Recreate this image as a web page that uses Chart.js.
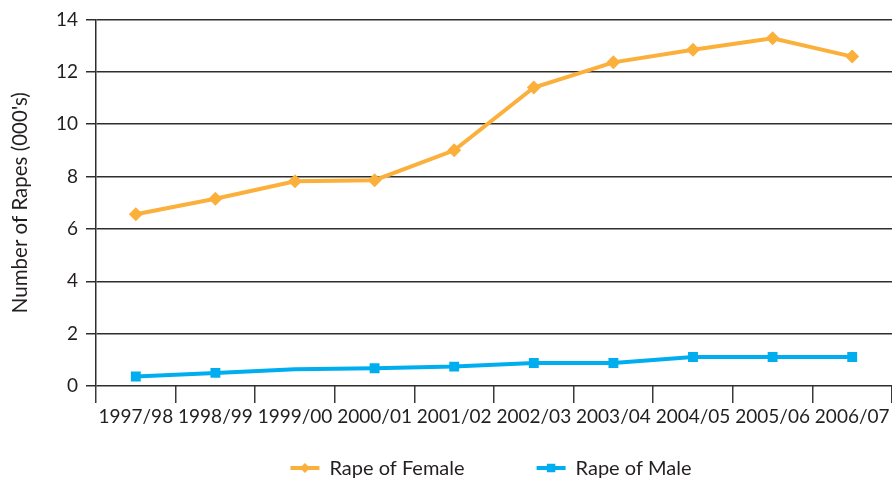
<!DOCTYPE html>
<html>
<head>
<meta charset="utf-8">
<script src="https://cdn.jsdelivr.net/npm/chart.js@4/dist/chart.umd.min.js"></script>
<style>
  html, body { margin: 0; padding: 0; background: #fff; }
  #wrap { width: 892px; height: 485px; }
</style>
</head>
<body>
<div id="wrap"><canvas id="rapeChart" width="892" height="485"></canvas></div>
<script>
// Recorded rapes by year, in thousands
const years = ['1997/98', '1998/99', '1999/00', '2000/01', '2001/02', '2002/03', '2003/04', '2004/05', '2005/06', '2006/07'];
const femaleRapes = [6.56, 7.15, 7.82, 7.86, 9.0, 11.4, 12.36, 12.84, 13.28, 12.58];
const maleRapes = [0.36, 0.5, 0.64, 0.68, 0.74, 0.88, 0.88, 1.11, 1.11, 1.11];
const yTickValues = [0, 2, 4, 6, 8, 10, 12, 14];

const ORANGE = '#FBB03B';
const BLUE = '#00AEEF';
const INK = '#231f20';
const FONT = 'Lato, "Open Sans", sans-serif';

// male series has no marker on the 1999/00 point
const malePointRadius = maleRapes.map((v, i) => i === 2 ? 0 : 7);

// legend drawn as short line + marker, like the series themselves
const lineLegend = {
    id: 'lineLegend',
    afterDraw(chart) {
        const ctx = chart.ctx;
        const area = chart.chartArea;
        const lineLen = 29, textGap = 10, itemGap = 72;
        ctx.save();
        ctx.font = '20px ' + FONT;
        const items = chart.data.datasets.map(ds => ({
            ds,
            w: lineLen + textGap + ctx.measureText(ds.label).width
        }));
        const total = items.reduce((s, it) => s + it.w, 0) + itemGap * (items.length - 1);
        let x = (area.left + area.right) / 2 - total / 2 - 3;
        const y = chart.height - 17;
        items.forEach(({ds, w}) => {
            ctx.strokeStyle = ds.borderColor;
            ctx.lineWidth = 4;
            ctx.beginPath();
            ctx.moveTo(x, y);
            ctx.lineTo(x + lineLen, y);
            ctx.stroke();
            ctx.fillStyle = ds.borderColor;
            Chart.helpers.drawPoint(ctx, {
                pointStyle: ds.pointStyle,
                radius: ds.pointStyle === 'rect' ? 6 : 5,
                rotation: 0,
                borderWidth: 0
            }, x + lineLen / 2, y);
            ctx.fillStyle = INK;
            ctx.textBaseline = 'middle';
            ctx.textAlign = 'left';
            ctx.fillText(ds.label, x + lineLen + textGap, y + 1);
            x += w + itemGap;
        });
        ctx.restore();
    }
};

const ctx = document.getElementById('rapeChart').getContext('2d');
new Chart(ctx, {
    type: 'line',
    data: {
        labels: years,
        datasets: [{
            label: 'Rape of Female',
            data: femaleRapes,
            borderColor: ORANGE,
            backgroundColor: ORANGE,
            borderWidth: 4,
            pointStyle: 'rectRot',
            pointRadius: 7,
            pointBorderWidth: 0,
            tension: 0
        }, {
            label: 'Rape of Male',
            data: maleRapes,
            borderColor: BLUE,
            backgroundColor: BLUE,
            borderWidth: 4,
            pointStyle: 'rect',
            pointRadius: malePointRadius,
            pointBorderWidth: 0,
            tension: 0
        }]
    },
    options: {
        responsive: false,
        animation: false,
        devicePixelRatio: 1,
        layout: { autoPadding: false, padding: { left: 0, right: -2, top: 19, bottom: 38 } },
        plugins: {
            legend: { display: false },
            tooltip: { enabled: false }
        },
        scales: {
            x: {
                offset: true,
                grid: {
                    offset: true,
                    drawOnChartArea: false,
                    drawTicks: true,
                    tickLength: 17,
                    color: '#3a3a3a',
                    lineWidth: 1.5
                },
                border: { display: false },
                ticks: {
                    color: INK,
                    font: { family: FONT, size: 19 },
                    padding: 2,
                    maxRotation: 0,
                    autoSkip: false
                },
                afterFit(scale) { scale.height = 61; }
            },
            y: {
                min: 0,
                max: 14,
                afterBuildTicks(scale) {
                    scale.ticks = yTickValues.map(v => ({ value: v }));
                },
                grid: {
                    color: '#2e2e2e',
                    lineWidth: 1.5,
                    drawTicks: true,
                    tickLength: 10
                },
                border: { display: true, color: '#2e2e2e', width: 1.5 },
                ticks: {
                    color: INK,
                    font: { family: FONT, size: 19 },
                    padding: 8
                },
                title: {
                    display: true,
                    text: "Number of Rapes (000's)",
                    color: INK,
                    font: { family: FONT, size: 20.5 },
                    padding: { top: 8, bottom: 0 }
                },
                afterFit(scale) { scale.width = 96; }
            }
        }
    },
    plugins: [lineLegend]
});
</script>
</body>
</html>
